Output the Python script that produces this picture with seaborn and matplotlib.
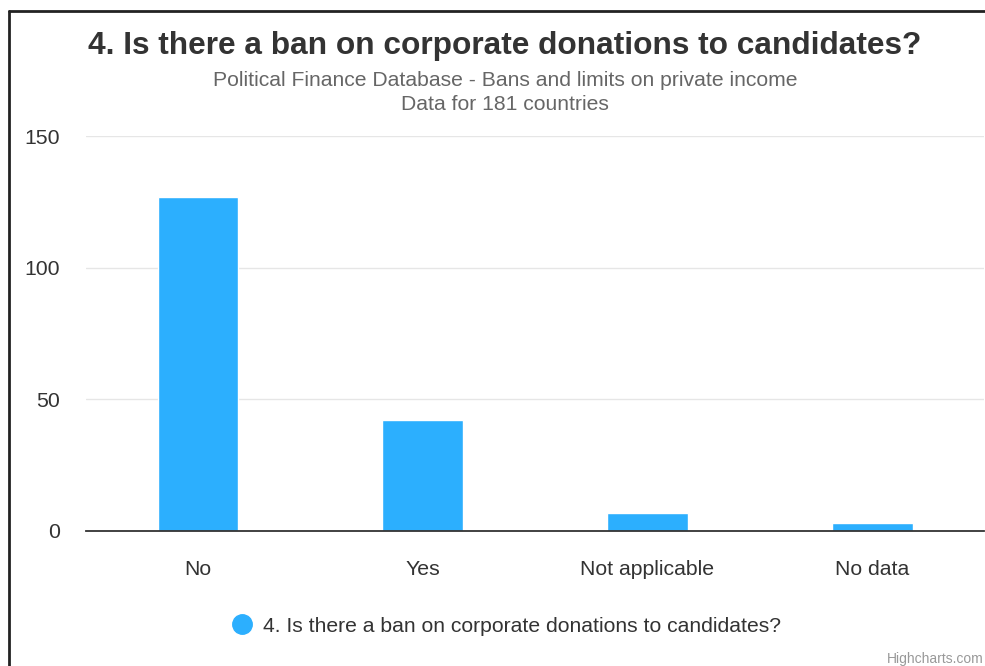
import matplotlib
matplotlib.use("Agg")
import matplotlib.pyplot as plt
from matplotlib.lines import Line2D
import seaborn as sns
import pandas as pd

categories = ["No", "Yes", "Not applicable", "No data"]
counts = [127, 42, 7, 3]
y_ticks = [0, 50, 100, 150]
title = "4. Is there a ban on corporate donations to candidates?"
subtitle_1 = "Political Finance Database - Bans and limits on private income"
subtitle_2 = "Data for 181 countries"
series_name = "4. Is there a ban on corporate donations to candidates?"

df = pd.DataFrame({"category": categories, "count": counts})

sns.set_theme(style="white")
plt.rcParams["font.family"] = ["Liberation Sans", "DejaVu Sans"]

W, H = 985, 666
fig = plt.figure(figsize=(W / 100, H / 100), dpi=100)
ax = fig.add_axes([85.7 / W, 1 - 531 / H, (984.4 - 85.7) / W, (531 - 136) / H])

sns.barplot(data=df, x="category", y="count", color="#2caffe", width=0.36,
            saturation=1, ax=ax, zorder=3)

ax.set_ylim(0, 150)
ax.set_xlim(-0.5, len(categories) - 0.5)
ax.set_yticks(y_ticks)
ax.set_yticklabels([str(v) for v in y_ticks], fontsize=15.3, color="#333333")
ax.tick_params(axis="y", length=0, pad=18.5)
ax.tick_params(axis="x", length=0, pad=21, labelsize=15.3, labelcolor="#333333")
ax.set_xlabel("")
ax.set_ylabel("")
ax.grid(axis="y", color="#e6e6e6", linewidth=1, zorder=0)
ax.grid(axis="x", visible=False)
for s in ["top", "right", "left"]:
    ax.spines[s].set_visible(False)
ax.spines["bottom"].set_color("#333333")
ax.spines["bottom"].set_linewidth(1.3)
ax.spines["bottom"].set_zorder(4)

fig.text(505 / W, 1 - 46 / H, title, ha="center", va="center",
         fontsize=22.8, fontweight="bold", color="#333333")
fig.text(505 / W, 1 - 80 / H, subtitle_1, ha="center", va="center",
         fontsize=15.2, color="#666666")
fig.text(505 / W, 1 - 105 / H, subtitle_2, ha="center", va="center",
         fontsize=15.2, color="#666666")

# legend
fig.add_artist(Line2D([242 / W], [1 - 624 / H], marker="o", markersize=14,
                      color="#2caffe", linestyle="none", transform=fig.transFigure))
fig.text(263 / W, 1 - 626 / H, series_name, ha="left", va="center",
         fontsize=15.2, color="#333333")

fig.text(984 / W, 1 - 659 / H, "Highcharts.com", ha="right", va="center",
         fontsize=10, color="#999999")

# screenshot frame
fig.add_artist(Line2D([9 / W, 9 / W], [0, 1 - 11 / H], color="#222222",
                      linewidth=2, transform=fig.transFigure))
fig.add_artist(Line2D([9 / W, 1], [1 - 11 / H, 1 - 11 / H], color="#222222",
                      linewidth=2, transform=fig.transFigure))

fig.savefig("out.png", dpi=100)
